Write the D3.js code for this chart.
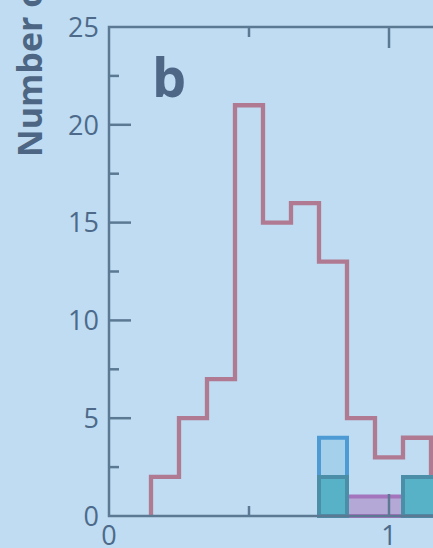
<!DOCTYPE html>
<html>
<head>
<meta charset="utf-8">
<script src="https://cdn.jsdelivr.net/npm/d3@7"></script>
<style>
  html, body { margin: 0; padding: 0; background: #bfdcf2; }
  svg { display: block; }
  text { font-family: "Open Sans", "DejaVu Sans", sans-serif; }
</style>
</head>
<body>
<svg id="chart" width="433" height="548"></svg>
<script>
// Histogram bins: left edges and common width
const binStart = 0.15;
const binWidth = 0.1;

// Outline histogram (all samples)
const totalCounts = [2, 5, 7, 21, 15, 16, 13, 5, 3, 4, 2];

// Filled histograms, given as [left edge, count]
const blueBins   = [[0.75, 4]];
const purpleBins = [[0.85, 1], [0.95, 1]];
const tealBins   = [[0.75, 2], [1.05, 2], [1.15, 2]];

const yTicks = [0, 5, 10, 15, 20, 25];
const xTicks = [0, 1];
const panelLabel = "b";
const yTitle = "Number of";

const svg = d3.select("#chart");
const W = 433, H = 548;

const x = d3.scaleLinear().domain([0, 1]).range([109, 389]);
const y = d3.scaleLinear().domain([0, 25]).range([516, 27]);

const axisColor = "#5b7993";
const textColor = "#4d6a8a";

svg.append("rect").attr("width", W).attr("height", H).attr("fill", "#bfdcf2");

const line = d3.line().x(d => x(d[0])).y(d => y(d[1]));

// Step outline through a run of bins: [[left, count], ...] or counts from a start edge
function stepOutline(bins) {
  const pts = [[bins[0][0], 0]];
  bins.forEach(([x0, c]) => pts.push([x0, c], [x0 + binWidth, c]));
  pts.push([bins[bins.length - 1][0] + binWidth, 0]);
  return pts;
}

// Outline step path for the total counts
const totalBins = totalCounts.map((c, i) => [binStart + i * binWidth, c]);
const totalPts = stepOutline(totalBins).slice(0, -1);
svg.append("path")
  .attr("d", line(totalPts))
  .attr("fill", "none")
  .attr("stroke", "#b07a92")
  .attr("stroke-width", 4.3)
  .attr("stroke-linejoin", "miter");

// Filled histograms, drawn as joined outlines (adjacent bins share one outline)
function groups(data) {
  const out = [];
  data.forEach(d => {
    const last = out[out.length - 1];
    if (last && Math.abs(last[last.length - 1][0] + binWidth - d[0]) < 1e-9) last.push(d);
    else out.push([d]);
  });
  return out;
}
function filled(data, fill, stroke) {
  svg.append("g").selectAll("path").data(groups(data)).join("path")
    .attr("d", g => line(stepOutline(g)) + "Z")
    .attr("fill", fill)
    .attr("stroke", stroke)
    .attr("stroke-width", 4);
}
filled(blueBins, "#a5d0ec", "#4d9ad4");
filled(purpleBins, "#b4a9d6", "#a474bc");
filled(tealBins, "#58b2c7", "#4b8ea8");

// Frame axes with inward ticks
const frame = svg.append("g").attr("stroke", axisColor).attr("stroke-width", 2.5).attr("fill", "none");
frame.append("path").attr("d", `M${x(1.6)},${y(25)}H${x(0)}V${y(0)}H${x(1.6)}`);

const yMinor = d3.range(2.5, 25, 5);
yTicks.slice(1, -1).forEach(v => frame.append("line")
  .attr("x1", x(0)).attr("x2", x(0) + 22).attr("y1", y(v)).attr("y2", y(v)));
yMinor.forEach(v => frame.append("line")
  .attr("x1", x(0)).attr("x2", x(0) + 10).attr("y1", y(v)).attr("y2", y(v)));

const xMinor = [0.5];
xMinor.forEach(v => {
  frame.append("line").attr("x1", x(v)).attr("x2", x(v)).attr("y1", y(0)).attr("y2", y(0) - 10);
  frame.append("line").attr("x1", x(v)).attr("x2", x(v)).attr("y1", y(25)).attr("y2", y(25) + 10);
});
xTicks.slice(1).forEach(v => {
  frame.append("line").attr("x1", x(v)).attr("x2", x(v)).attr("y1", y(0)).attr("y2", y(0) - 22);
  frame.append("line").attr("x1", x(v)).attr("x2", x(v)).attr("y1", y(25)).attr("y2", y(25) + 21);
});

// Tick labels
svg.append("g").selectAll("text").data(yTicks).join("text")
  .attr("x", 99).attr("y", d => y(d)).attr("dy", "0.36em")
  .attr("text-anchor", "end").attr("font-size", 27).attr("fill", textColor)
  .text(d => d);
svg.append("g").selectAll("text").data(xTicks).join("text")
  .attr("x", d => x(d)).attr("y", 545)
  .attr("text-anchor", "middle").attr("font-size", 27).attr("fill", textColor)
  .text(d => d);

// Panel letter
svg.append("text").attr("x", 152).attr("y", 97)
  .attr("font-size", 54).attr("font-weight", 700).attr("fill", "#4f6787")
  .text(panelLabel);

// Y axis title
svg.append("text").attr("transform", "translate(42,157) rotate(-90)")
  .attr("font-size", 34).attr("font-weight", 700).attr("fill", "#4c6683")
  .text(yTitle);
</script>
</body>
</html>
